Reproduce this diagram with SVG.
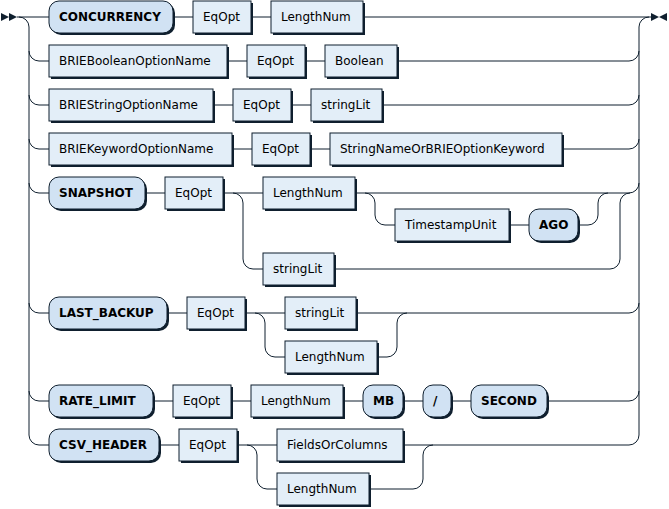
<svg xmlns="http://www.w3.org/2000/svg" width="669" height="509" viewBox="0 0 669 509">
<style>
.line{fill:none;stroke:#0f1f2e;stroke-width:1}
.sh{fill:#0f1f2e;stroke:none}
.t{fill:#d1e2f3;stroke:#0f1f2e;stroke-width:1}
.n{fill:#e3eef8;stroke:#0f1f2e;stroke-width:1}
text{font-family:"DejaVu Sans","Liberation Sans",sans-serif;font-size:12px;fill:#000}
text.tt{font-weight:bold}
.arr{fill:#0f1f2e}
</style>
<rect width="669" height="509" fill="#fff"/>
<g id="connectors">
<polygon class="arr" points="9 17 1 13 1 21"/>
<polygon class="arr" points="17 17 9 13 9 21"/>
<polygon class="arr" points="659 17 667 13 667 21"/>
<polygon class="arr" points="659 17 651 13 651 21"/>
<path class="line" d="M17 17 H49 M173 17 H193 M251 17 H271 M363 17 H651"/>
<path class="line" d="M19 17 a10 10 0 0 1 10 10 V435 a10 10 0 0 0 10 10 H49 M29 51 a10 10 0 0 0 10 10 H49 M29 95 a10 10 0 0 0 10 10 H49 M29 139 a10 10 0 0 0 10 10 H49 M29 183 a10 10 0 0 0 10 10 H49 M29 303 a10 10 0 0 0 10 10 H49 M29 391 a10 10 0 0 0 10 10 H49"/>
<path class="line" d="M639 435 V27 a10 10 0 0 1 10 -10"/>
<path class="line" d="M227 61 H247 M305 61 H325 M397 61 H629 a10 10 0 0 0 10 -10"/>
<path class="line" d="M213 105 H233 M291 105 H311 M382 105 H629 a10 10 0 0 0 10 -10"/>
<path class="line" d="M232 149 H252 M310 149 H330 M562 149 H629 a10 10 0 0 0 10 -10"/>
<path class="line" d="M145 193 H165 M223 193 H263 M355 193 H629 a10 10 0 0 0 10 -10"/>
<path class="line" d="M233 193 a10 10 0 0 1 10 10 V259 a10 10 0 0 0 10 10 H263"/>
<path class="line" d="M365 193 a10 10 0 0 1 10 10 V215 a10 10 0 0 0 10 10 H395 M509 225 H529 M578 225 H588 a10 10 0 0 0 10 -10 V203 a10 10 0 0 1 10 -10"/>
<path class="line" d="M334 269 H610 a10 10 0 0 0 10 -10 V203 a10 10 0 0 1 10 -10"/>
<path class="line" d="M167 313 H187 M245 313 H285 M356 313 H629 a10 10 0 0 0 10 -10"/>
<path class="line" d="M255 313 a10 10 0 0 1 10 10 V347 a10 10 0 0 0 10 10 H285 M377 357 H387 a10 10 0 0 0 10 -10 V323 a10 10 0 0 1 10 -10"/>
<path class="line" d="M153 401 H173 M231 401 H251 M343 401 H363 M403 401 H423 M451 401 H471 M547 401 H629 a10 10 0 0 0 10 -10"/>
<path class="line" d="M159 445 H179 M237 445 H277 M403 445 H629 a10 10 0 0 0 10 -10"/>
<path class="line" d="M247 445 a10 10 0 0 1 10 10 V479 a10 10 0 0 0 10 10 H277 M369 489 H413 a10 10 0 0 0 10 -10 V455 a10 10 0 0 1 10 -10"/>
</g>
<g id="concurrency"><rect class="sh" x="51" y="3" width="124" height="32" rx="10"/><rect class="t" x="49" y="1" width="124" height="32" rx="10"/><text class="tt" x="59" y="21">CONCURRENCY</text></g>
<g id="eqopt1"><rect class="sh" x="195" y="3" width="58" height="32"/><rect class="n" x="193" y="1" width="58" height="32"/><text x="203" y="21">EqOpt</text></g>
<g id="lengthnum1"><rect class="sh" x="273" y="3" width="92" height="32"/><rect class="n" x="271" y="1" width="92" height="32"/><text x="281" y="21">LengthNum</text></g>

<g id="brieboolean"><rect class="sh" x="51" y="47" width="178" height="32"/><rect class="n" x="49" y="45" width="178" height="32"/><text x="59" y="65">BRIEBooleanOptionName</text></g>
<g id="eqopt2"><rect class="sh" x="249" y="47" width="58" height="32"/><rect class="n" x="247" y="45" width="58" height="32"/><text x="257" y="65">EqOpt</text></g>
<g id="boolean"><rect class="sh" x="327" y="47" width="72" height="32"/><rect class="n" x="325" y="45" width="72" height="32"/><text x="335" y="65">Boolean</text></g>

<g id="briestring"><rect class="sh" x="51" y="91" width="164" height="32"/><rect class="n" x="49" y="89" width="164" height="32"/><text x="59" y="109">BRIEStringOptionName</text></g>
<g id="eqopt3"><rect class="sh" x="235" y="91" width="58" height="32"/><rect class="n" x="233" y="89" width="58" height="32"/><text x="243" y="109">EqOpt</text></g>
<g id="stringlit1"><rect class="sh" x="313" y="91" width="71" height="32"/><rect class="n" x="311" y="89" width="71" height="32"/><text x="321" y="109">stringLit</text></g>

<g id="briekeyword"><rect class="sh" x="51" y="135" width="183" height="32"/><rect class="n" x="49" y="133" width="183" height="32"/><text x="59" y="153">BRIEKeywordOptionName</text></g>
<g id="eqopt4"><rect class="sh" x="254" y="135" width="58" height="32"/><rect class="n" x="252" y="133" width="58" height="32"/><text x="262" y="153">EqOpt</text></g>
<g id="stringname"><rect class="sh" x="332" y="135" width="232" height="32"/><rect class="n" x="330" y="133" width="232" height="32"/><text x="340" y="153">StringNameOrBRIEOptionKeyword</text></g>

<g id="snapshot"><rect class="sh" x="51" y="179" width="96" height="32" rx="10"/><rect class="t" x="49" y="177" width="96" height="32" rx="10"/><text class="tt" x="59" y="197">SNAPSHOT</text></g>
<g id="eqopt5"><rect class="sh" x="167" y="179" width="58" height="32"/><rect class="n" x="165" y="177" width="58" height="32"/><text x="175" y="197">EqOpt</text></g>
<g id="lengthnum5"><rect class="sh" x="265" y="179" width="92" height="32"/><rect class="n" x="263" y="177" width="92" height="32"/><text x="273" y="197">LengthNum</text></g>
<g id="timestampunit"><rect class="sh" x="397" y="211" width="114" height="32"/><rect class="n" x="395" y="209" width="114" height="32"/><text x="405" y="229">TimestampUnit</text></g>
<g id="ago"><rect class="sh" x="531" y="211" width="49" height="32" rx="10"/><rect class="t" x="529" y="209" width="49" height="32" rx="10"/><text class="tt" x="539" y="229">AGO</text></g>
<g id="stringlit5"><rect class="sh" x="265" y="255" width="71" height="32"/><rect class="n" x="263" y="253" width="71" height="32"/><text x="273" y="273">stringLit</text></g>

<g id="lastbackup"><rect class="sh" x="51" y="299" width="118" height="32" rx="10"/><rect class="t" x="49" y="297" width="118" height="32" rx="10"/><text class="tt" x="59" y="317">LAST_BACKUP</text></g>
<g id="eqopt6"><rect class="sh" x="189" y="299" width="58" height="32"/><rect class="n" x="187" y="297" width="58" height="32"/><text x="197" y="317">EqOpt</text></g>
<g id="stringlit6"><rect class="sh" x="287" y="299" width="71" height="32"/><rect class="n" x="285" y="297" width="71" height="32"/><text x="295" y="317">stringLit</text></g>
<g id="lengthnum6"><rect class="sh" x="287" y="343" width="92" height="32"/><rect class="n" x="285" y="341" width="92" height="32"/><text x="295" y="361">LengthNum</text></g>

<g id="ratelimit"><rect class="sh" x="51" y="387" width="104" height="32" rx="10"/><rect class="t" x="49" y="385" width="104" height="32" rx="10"/><text class="tt" x="59" y="405">RATE_LIMIT</text></g>
<g id="eqopt7"><rect class="sh" x="175" y="387" width="58" height="32"/><rect class="n" x="173" y="385" width="58" height="32"/><text x="183" y="405">EqOpt</text></g>
<g id="lengthnum7"><rect class="sh" x="253" y="387" width="92" height="32"/><rect class="n" x="251" y="385" width="92" height="32"/><text x="261" y="405">LengthNum</text></g>
<g id="mb"><rect class="sh" x="365" y="387" width="40" height="32" rx="10"/><rect class="t" x="363" y="385" width="40" height="32" rx="10"/><text class="tt" x="373" y="405">MB</text></g>
<g id="slash"><rect class="sh" x="425" y="387" width="28" height="32" rx="10"/><rect class="t" x="423" y="385" width="28" height="32" rx="10"/><text class="tt" x="433" y="405">/</text></g>
<g id="second"><rect class="sh" x="473" y="387" width="76" height="32" rx="10"/><rect class="t" x="471" y="385" width="76" height="32" rx="10"/><text class="tt" x="481" y="405">SECOND</text></g>

<g id="csvheader"><rect class="sh" x="51" y="431" width="110" height="32" rx="10"/><rect class="t" x="49" y="429" width="110" height="32" rx="10"/><text class="tt" x="59" y="449">CSV_HEADER</text></g>
<g id="eqopt8"><rect class="sh" x="181" y="431" width="58" height="32"/><rect class="n" x="179" y="429" width="58" height="32"/><text x="189" y="449">EqOpt</text></g>
<g id="fieldsorcolumns"><rect class="sh" x="279" y="431" width="126" height="32"/><rect class="n" x="277" y="429" width="126" height="32"/><text x="287" y="449">FieldsOrColumns</text></g>
<g id="lengthnum8"><rect class="sh" x="279" y="475" width="92" height="32"/><rect class="n" x="277" y="473" width="92" height="32"/><text x="287" y="493">LengthNum</text></g>
</svg>
